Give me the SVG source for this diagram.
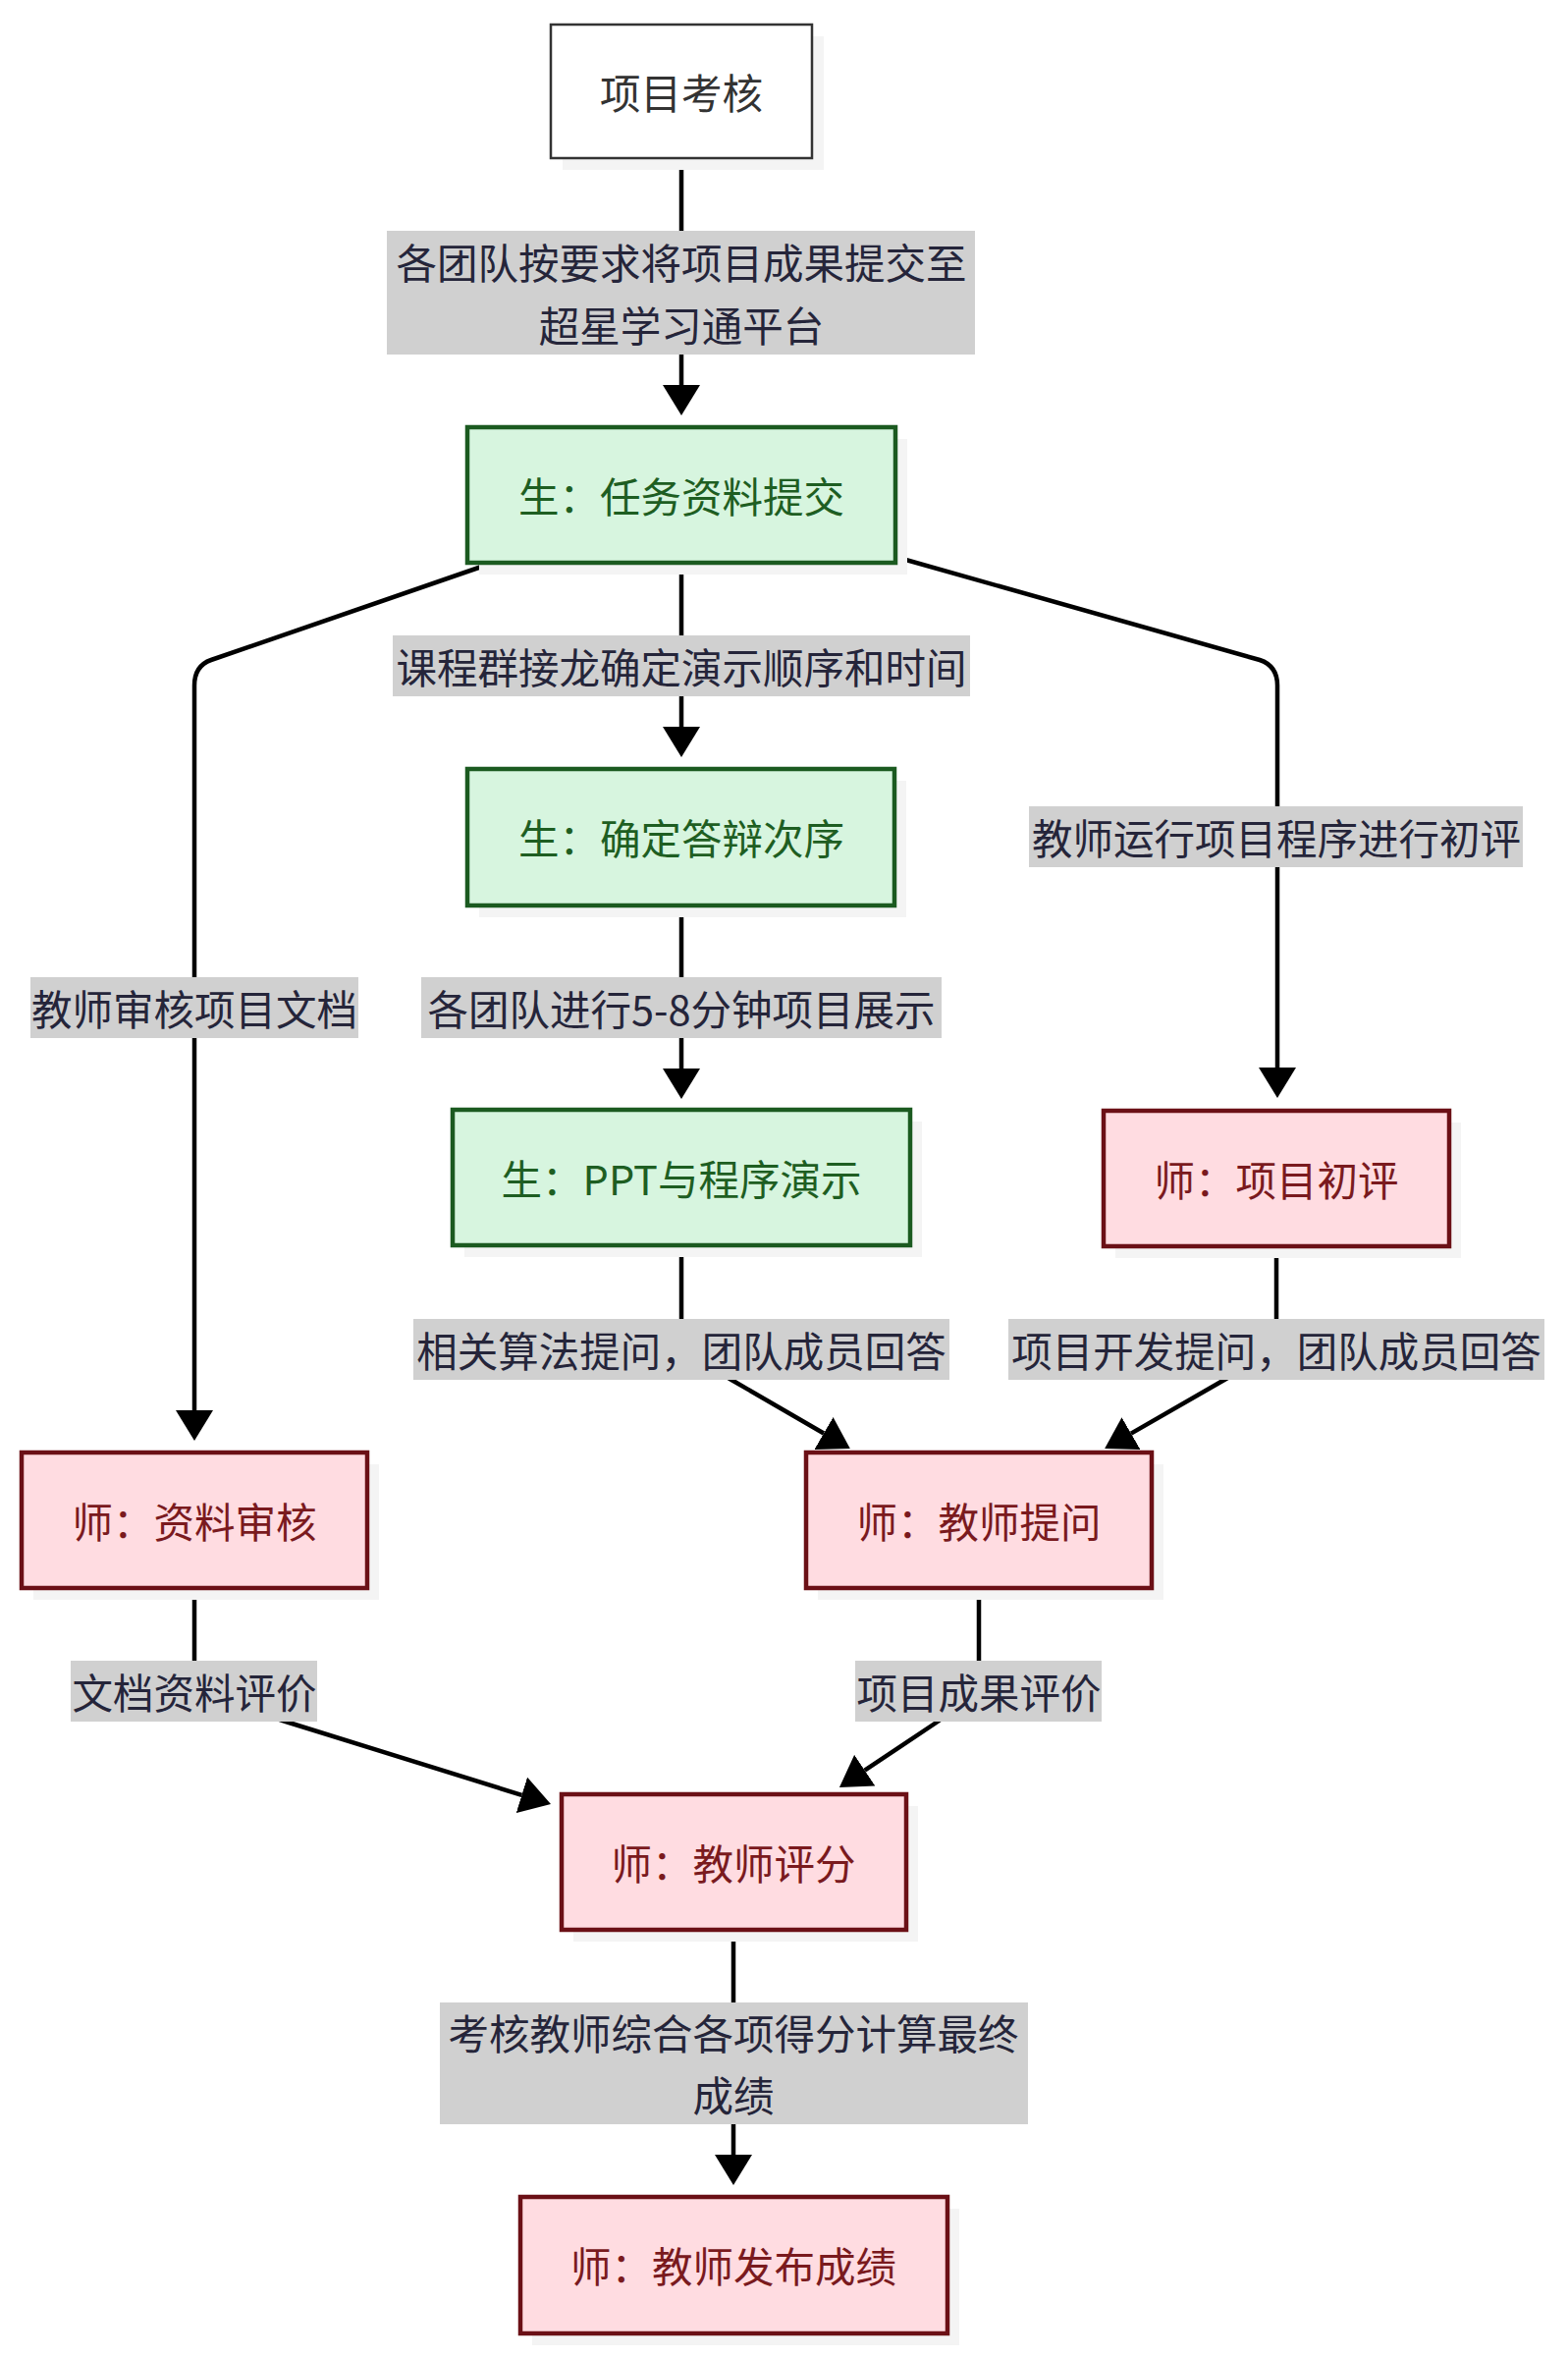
<svg xmlns="http://www.w3.org/2000/svg" width="1597" height="2400" viewBox="0 0 1597 2400">
<style>
text{font-family:"Noto Sans CJK SC","Noto Sans",sans-serif;font-size:41.5px;text-anchor:middle;dominant-baseline:central}
.shadow{fill:#f4f4f4}
.plain{fill:#ffffff;stroke:#333333;stroke-width:2.5}
.plain-t{fill:#333333}
.stu{fill:#d7f5df;stroke:#1b5a20;stroke-width:4.5}
.stu-t{fill:#1e5e22}
.tea{fill:#ffdce1;stroke:#6b1016;stroke-width:4.5}
.tea-t{fill:#7a1a1e}
.edge{fill:none;stroke:#000000;stroke-width:4.5}
.lbl{fill:#d0d0d0}
.lbl-t{fill:#25253a}
</style>
<defs>
<marker id="ah" viewBox="0 0 31 38" refX="0" refY="19" markerWidth="31" markerHeight="38" markerUnits="userSpaceOnUse" orient="auto">
<path d="M0,0 L31,19 L0,38 Z" fill="#000000"/>
</marker>
</defs>
<rect width="1597" height="2400" fill="#ffffff"/>

<g id="connectors">
<path class="edge" d="M694,161 L694,392" marker-end="url(#ah)"/>
<path class="edge" d="M694,572 L694,740" marker-end="url(#ah)"/>
<path class="edge" d="M694,922 L694,1088" marker-end="url(#ah)"/>
<path class="edge" d="M502,573 L215,672 Q198,678 198,698 L198,1436" marker-end="url(#ah)"/>
<path class="edge" d="M912,567 L1283,672 Q1301,678 1301,698 L1301,1087" marker-end="url(#ah)"/>
<path class="edge" d="M694,1268 L694,1374 L745,1405 L839,1459.5" marker-end="url(#ah)"/>
<path class="edge" d="M1300,1269 L1300,1374 L1247,1405 L1152,1459.6" marker-end="url(#ah)"/>
<path class="edge" d="M198,1617 L198,1722 L291,1753 L531.4,1827.8" marker-end="url(#ah)"/>
<path class="edge" d="M997,1617 L997,1722 L955,1753 L880.7,1802.7" marker-end="url(#ah)"/>
<path class="edge" d="M747,1965 L747,2194" marker-end="url(#ah)"/>

<g id="label-1"><rect class="lbl" x="394" y="235" width="599" height="126"/>
<text class="lbl-t" x="694" y="266">各团队按要求将项目成果提交至</text>
<text class="lbl-t" x="694" y="330">超星学习通平台</text></g>
<g id="label-2"><rect class="lbl" x="400" y="647" width="588" height="62"/>
<text class="lbl-t" x="694" y="678">课程群接龙确定演示顺序和时间</text></g>
<g id="label-3"><rect class="lbl" x="31" y="995" width="334" height="62"/>
<text class="lbl-t" x="198" y="1026">教师审核项目文档</text></g>
<g id="label-4"><rect class="lbl" x="429" y="995" width="530" height="62"/>
<text class="lbl-t" x="694" y="1026">各团队进行5-8分钟项目展示</text></g>
<g id="label-5"><rect class="lbl" x="1048" y="821" width="503" height="62"/>
<text class="lbl-t" x="1300" y="852">教师运行项目程序进行初评</text></g>
<g id="label-6"><rect class="lbl" x="421" y="1343" width="546" height="62"/>
<text class="lbl-t" x="694" y="1374">相关算法提问，团队成员回答</text></g>
<g id="label-7"><rect class="lbl" x="1027" y="1343" width="546" height="62"/>
<text class="lbl-t" x="1300" y="1374">项目开发提问，团队成员回答</text></g>
<g id="label-8"><rect class="lbl" x="72" y="1691" width="251" height="62"/>
<text class="lbl-t" x="198" y="1722">文档资料评价</text></g>
<g id="label-9"><rect class="lbl" x="871" y="1691" width="251" height="62"/>
<text class="lbl-t" x="997" y="1722">项目成果评价</text></g>
<g id="label-10"><rect class="lbl" x="448" y="2039" width="599" height="124"/>
<text class="lbl-t" x="747" y="2069">考核教师综合各项得分计算最终</text>
<text class="lbl-t" x="747" y="2132">成绩</text></g>
</g>

<g id="node-start">
<rect class="shadow" x="573" y="37" width="266" height="136"/>
<rect class="plain" x="561" y="25" width="266" height="136"/>
<text class="plain-t" x="694" y="93">项目考核</text>
</g>
<g id="node-submit">
<rect class="shadow" x="488" y="447" width="436" height="138"/>
<rect class="stu" x="476" y="435" width="436" height="138"/>
<text class="stu-t" x="694" y="504">生：任务资料提交</text>
</g>
<g id="node-order">
<rect class="shadow" x="488" y="795" width="435" height="139"/>
<rect class="stu" x="476" y="783" width="435" height="139"/>
<text class="stu-t" x="694" y="852">生：确定答辩次序</text>
</g>
<g id="node-demo">
<rect class="shadow" x="473" y="1142" width="466" height="138"/>
<rect class="stu" x="461" y="1130" width="466" height="138"/>
<text class="stu-t" x="694" y="1199">生：PPT与程序演示</text>
</g>
<g id="node-prelim">
<rect class="shadow" x="1136" y="1143" width="352" height="138"/>
<rect class="tea" x="1124" y="1131" width="352" height="138"/>
<text class="tea-t" x="1300" y="1200">师：项目初评</text>
</g>
<g id="node-docreview">
<rect class="shadow" x="34" y="1491" width="352" height="138"/>
<rect class="tea" x="22" y="1479" width="352" height="138"/>
<text class="tea-t" x="198" y="1548">师：资料审核</text>
</g>
<g id="node-question">
<rect class="shadow" x="833" y="1491" width="352" height="138"/>
<rect class="tea" x="821" y="1479" width="352" height="138"/>
<text class="tea-t" x="997" y="1548">师：教师提问</text>
</g>
<g id="node-score">
<rect class="shadow" x="584" y="1839" width="351" height="138"/>
<rect class="tea" x="572" y="1827" width="351" height="138"/>
<text class="tea-t" x="747" y="1896">师：教师评分</text>
</g>
<g id="node-publish">
<rect class="shadow" x="542" y="2249" width="435" height="139"/>
<rect class="tea" x="530" y="2237" width="435" height="139"/>
<text class="tea-t" x="747" y="2306">师：教师发布成绩</text>
</g>
</svg>
